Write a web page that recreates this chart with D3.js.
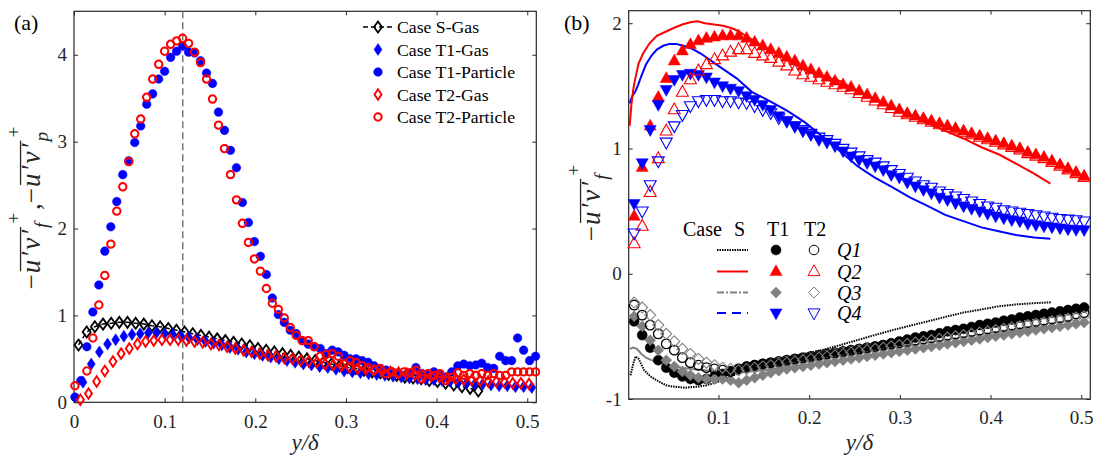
<!DOCTYPE html>
<html><head><meta charset="utf-8">
<script src="https://cdn.jsdelivr.net/npm/d3@7"></script>
<style>
body{margin:0;background:#fff;}
svg{display:block;font-family:"Liberation Serif","Times New Roman",Times,serif;}
</style></head><body>
<svg id="c" width="1096" height="456"></svg>
<script>
// ---------------- Panel (a) data ----------------
const xTicksA = [0, 0.1, 0.2, 0.3, 0.4, 0.5];
const xTickLabelsA = ["0", "0.1", "0.2", "0.3", "0.4", "0.5"];
const yTicksA = [0, 1, 2, 3, 4];
const yTickLabelsA = ["0", "1", "2", "3", "4"];

// particle grid
const xPart = [0.001,0.0076,0.0142,0.0208,0.0274,0.034,0.0406,0.0472,0.0538,0.0604,0.067,0.0736,0.0802,0.0868,0.0934,0.1,0.1066,0.1132,0.1198,0.1264,0.133,0.1396,0.1462,0.1528,0.1594,0.166,0.1726,0.1792,0.1858,0.1924,0.199,0.2056,0.2122,0.2188,0.2254,0.232,0.2386,0.2452,0.2518,0.2584,0.265,0.2716,0.2782,0.2848,0.2914,0.298,0.3046,0.3112,0.3178,0.3244,0.331,0.3376,0.3442,0.3508,0.3574,0.364,0.3706,0.3772,0.3838,0.3904,0.397,0.4036,0.4102,0.4168,0.4234,0.43,0.4366,0.4432,0.4498,0.4564,0.463,0.4696,0.4762,0.4828,0.4894,0.496,0.5026,0.5092];
const t1Particle = [0.06,0.25,0.64,1.04,1.35,1.74,2.02,2.31,2.62,2.78,2.99,3.18,3.43,3.55,3.72,3.81,3.97,4.04,4.10,4.03,4.02,3.93,3.79,3.67,3.34,3.13,2.90,2.70,2.30,2.07,1.85,1.68,1.47,1.20,1.01,0.92,0.83,0.79,0.71,0.67,0.64,0.62,0.56,0.60,0.58,0.54,0.50,0.50,0.48,0.46,0.42,0.37,0.37,0.35,0.33,0.31,0.33,0.40,0.33,0.31,0.35,0.31,0.29,0.35,0.42,0.44,0.42,0.43,0.45,0.40,0.39,0.53,0.48,0.48,0.74,0.60,0.48,0.53];
const t2Particle = [0.19,null,0.36,0.74,1.12,1.46,1.82,2.20,2.48,2.77,3.09,3.26,3.51,3.72,3.89,4.04,4.12,4.16,4.19,4.13,4.03,3.91,3.72,3.49,3.19,2.92,2.62,2.33,2.06,1.84,1.65,1.51,1.31,1.14,1.07,0.97,0.86,0.77,0.71,0.71,0.64,0.53,0.55,0.56,0.53,0.44,0.48,0.46,0.42,0.40,0.37,0.39,0.33,0.35,0.33,0.35,0.34,0.37,0.27,0.33,0.31,0.33,0.25,0.29,0.34,0.31,0.33,0.31,0.33,0.31,0.33,0.31,0.31,0.35,0.35,0.35,0.35,0.35];

const xSGas = [0.005,0.014,0.023,0.032,0.041,0.05,0.059,0.068,0.077,0.086,0.095,0.104,0.113,0.122,0.131,0.14,0.149,0.158,0.167,0.176,0.185,0.194,0.203,0.212,0.221,0.23,0.239,0.248,0.257,0.266,0.275,0.284,0.293,0.302,0.311,0.32,0.329,0.338,0.347,0.356,0.365,0.374,0.383,0.392,0.401,0.41,0.419,0.428,0.437,0.446];
const sGas = [0.66,0.81,0.87,0.90,0.91,0.92,0.92,0.91,0.90,0.88,0.87,0.85,0.83,0.81,0.79,0.77,0.75,0.73,0.71,0.69,0.67,0.65,0.62,0.60,0.58,0.56,0.54,0.52,0.50,0.48,0.46,0.44,0.42,0.40,0.39,0.37,0.35,0.34,0.32,0.31,0.29,0.28,0.27,0.25,0.24,0.22,0.20,0.18,0.16,0.13];

const xT1Gas = [0.01,0.019,0.028,0.037,0.046,0.055,0.064,0.073,0.082,0.091,0.1,0.109,0.118,0.127,0.136,0.145,0.154,0.163,0.172,0.181,0.19,0.199,0.208,0.217,0.226,0.235,0.244,0.253,0.262,0.271,0.28,0.289,0.298,0.307,0.316,0.325,0.334,0.343,0.352,0.361,0.37,0.379,0.388,0.397,0.406,0.415,0.424,0.433,0.442,0.451,0.46,0.469,0.478,0.487,0.496,0.505];
const t1Gas = [0.23,0.44,0.58,0.67,0.72,0.76,0.78,0.79,0.80,0.80,0.79,0.78,0.76,0.74,0.72,0.70,0.68,0.66,0.63,0.61,0.58,0.56,0.54,0.52,0.50,0.48,0.46,0.44,0.43,0.41,0.40,0.38,0.36,0.35,0.34,0.33,0.32,0.31,0.30,0.29,0.28,0.27,0.26,0.26,0.25,0.24,0.23,0.22,0.21,0.21,0.20,0.19,0.19,0.18,0.18,0.17];

const xT2Gas = [0.007,0.016,0.025,0.034,0.043,0.052,0.061,0.07,0.079,0.088,0.097,0.106,0.115,0.124,0.133,0.142,0.151,0.16,0.169,0.178,0.187,0.196,0.205,0.214,0.223,0.232,0.241,0.25,0.259,0.268,0.277,0.286,0.295,0.304,0.313,0.322,0.331,0.34,0.349,0.358,0.367,0.376,0.385,0.394,0.403,0.412,0.421,0.43,0.439,0.448,0.457,0.466,0.475,0.484,0.493,0.502];
const t2Gas = [0.03,0.10,0.24,0.36,0.47,0.56,0.62,0.67,0.70,0.71,0.72,0.72,0.72,0.71,0.70,0.69,0.67,0.66,0.64,0.62,0.60,0.58,0.56,0.54,0.53,0.51,0.50,0.48,0.47,0.46,0.44,0.43,0.42,0.40,0.39,0.38,0.37,0.36,0.35,0.34,0.33,0.32,0.31,0.30,0.29,0.28,0.27,0.26,0.26,0.25,0.24,0.24,0.23,0.22,0.22,0.21];

const peakLineX = 0.12;
const legendA = ["Case S-Gas", "Case T1-Gas", "Case T1-Particle", "Case T2-Gas", "Case T2-Particle"];

// ---------------- Panel (b) data ----------------
const xTicksB = [0.1, 0.2, 0.3, 0.4, 0.5];
const xTickLabelsB = ["0.1", "0.2", "0.3", "0.4", "0.5"];
const yTicksB = [-1, 0, 1, 2];
const yTickLabelsB = ["-1", "0", "1", "2"];

const xB = [0.007,0.0159,0.0247,0.0336,0.0424,0.0513,0.0602,0.069,0.0779,0.0867,0.0956,0.1045,0.1133,0.1222,0.131,0.1399,0.1488,0.1576,0.1665,0.1753,0.1842,0.1931,0.2019,0.2108,0.2196,0.2285,0.2374,0.2462,0.2551,0.2639,0.2728,0.2817,0.2905,0.2994,0.3082,0.3171,0.326,0.3348,0.3437,0.3525,0.3614,0.3703,0.3791,0.388,0.3968,0.4057,0.4146,0.4234,0.4323,0.4411,0.45,0.4589,0.4677,0.4766,0.4854,0.4943,0.5032];
const t1Q1 = [-0.38,-0.49,-0.59,-0.69,-0.75,-0.79,-0.82,-0.84,-0.85,-0.84,-0.82,-0.80,-0.78,-0.76,-0.74,-0.73,-0.72,-0.715,-0.71,-0.70,-0.69,-0.68,-0.67,-0.66,-0.65,-0.64,-0.63,-0.62,-0.61,-0.60,-0.585,-0.57,-0.555,-0.54,-0.525,-0.51,-0.50,-0.49,-0.475,-0.46,-0.45,-0.44,-0.425,-0.41,-0.40,-0.39,-0.375,-0.365,-0.35,-0.34,-0.33,-0.32,-0.31,-0.30,-0.29,-0.28,-0.27];
const t1Q2 = [0.46,0.85,1.18,1.41,1.56,1.70,1.78,1.83,1.86,1.88,1.89,1.90,1.90,1.90,1.88,1.85,1.82,1.79,1.76,1.73,1.70,1.66,1.63,1.60,1.57,1.54,1.51,1.49,1.46,1.43,1.40,1.37,1.34,1.31,1.28,1.26,1.24,1.22,1.20,1.18,1.16,1.14,1.12,1.10,1.08,1.06,1.04,1.02,1.00,0.97,0.95,0.93,0.90,0.87,0.84,0.81,0.78];
const t1Q3 = [-0.34,-0.42,-0.53,-0.61,-0.69,-0.74,-0.78,-0.81,-0.83,-0.84,-0.84,-0.84,-0.85,-0.87,-0.85,-0.83,-0.81,-0.79,-0.775,-0.76,-0.75,-0.74,-0.73,-0.72,-0.71,-0.70,-0.69,-0.68,-0.67,-0.66,-0.65,-0.64,-0.63,-0.62,-0.61,-0.60,-0.59,-0.58,-0.57,-0.56,-0.55,-0.54,-0.53,-0.52,-0.51,-0.50,-0.49,-0.48,-0.47,-0.46,-0.45,-0.44,-0.43,-0.42,-0.41,-0.40,-0.39];
const t1Q4 = [0.56,0.885,1.15,1.35,1.47,1.55,1.59,1.60,1.59,1.57,1.53,1.50,1.48,1.46,1.42,1.39,1.35,1.31,1.26,1.22,1.18,1.14,1.11,1.07,1.05,1.02,0.98,0.94,0.91,0.885,0.86,0.83,0.79,0.77,0.73,0.70,0.67,0.645,0.61,0.59,0.565,0.54,0.52,0.50,0.48,0.46,0.445,0.43,0.42,0.40,0.39,0.38,0.373,0.365,0.357,0.352,0.35];
const t2Q1 = [-0.25,-0.33,-0.41,-0.48,-0.56,-0.61,-0.67,-0.71,-0.73,-0.75,-0.76,-0.77,-0.78,-0.76,-0.745,-0.73,-0.72,-0.71,-0.70,-0.69,-0.68,-0.67,-0.66,-0.65,-0.64,-0.63,-0.62,-0.61,-0.60,-0.59,-0.58,-0.57,-0.56,-0.55,-0.54,-0.53,-0.52,-0.51,-0.50,-0.49,-0.48,-0.47,-0.46,-0.45,-0.44,-0.43,-0.42,-0.41,-0.40,-0.39,-0.38,-0.37,-0.36,-0.35,-0.34,-0.32,-0.31];
const t2Q2 = [0.24,0.38,0.65,0.92,1.14,1.31,1.45,1.55,1.62,1.67,1.71,1.74,1.77,1.79,1.79,1.76,1.74,1.72,1.69,1.66,1.62,1.59,1.57,1.55,1.53,1.51,1.49,1.47,1.44,1.41,1.38,1.35,1.32,1.29,1.27,1.25,1.23,1.21,1.19,1.17,1.15,1.13,1.11,1.09,1.07,1.05,1.03,1.01,0.99,0.96,0.94,0.92,0.89,0.86,0.83,0.80,0.77];
const t2Q3 = [-0.23,-0.27,-0.33,-0.41,-0.48,-0.54,-0.60,-0.64,-0.68,-0.71,-0.73,-0.75,-0.76,-0.77,-0.76,-0.75,-0.74,-0.73,-0.72,-0.71,-0.70,-0.69,-0.68,-0.67,-0.66,-0.65,-0.64,-0.63,-0.62,-0.61,-0.60,-0.59,-0.58,-0.57,-0.56,-0.55,-0.54,-0.53,-0.52,-0.51,-0.50,-0.49,-0.48,-0.47,-0.46,-0.45,-0.44,-0.43,-0.42,-0.41,-0.40,-0.39,-0.38,-0.37,-0.36,-0.35,-0.34];
const t2Q4 = [0.325,0.50,0.71,0.90,1.05,1.18,1.27,1.34,1.38,1.39,1.39,1.38,1.38,1.37,1.365,1.34,1.31,1.285,1.245,1.22,1.18,1.15,1.12,1.09,1.07,1.04,1.00,0.97,0.94,0.91,0.89,0.86,0.83,0.80,0.77,0.74,0.71,0.69,0.66,0.64,0.62,0.60,0.58,0.56,0.54,0.53,0.51,0.50,0.49,0.48,0.47,0.46,0.45,0.44,0.435,0.43,0.42];

// Case S curves
const xSQ1 = [0.003,0.006,0.0086,0.012,0.018,0.025,0.034,0.042,0.049,0.056,0.063,0.071,0.079,0.087,0.094,0.105,0.12,0.137,0.156,0.176,0.195,0.214,0.234,0.253,0.272,0.292,0.311,0.331,0.35,0.37,0.39,0.409,0.428,0.448,0.467];
const sQ1 = [-0.81,-0.72,-0.66,-0.68,-0.77,-0.82,-0.86,-0.89,-0.90,-0.905,-0.91,-0.905,-0.90,-0.89,-0.875,-0.85,-0.80,-0.75,-0.71,-0.67,-0.64,-0.61,-0.57,-0.53,-0.49,-0.45,-0.415,-0.38,-0.345,-0.31,-0.285,-0.26,-0.245,-0.235,-0.228];
const xSQ2 = [0.002,0.004,0.006,0.008,0.012,0.017,0.024,0.032,0.041,0.05,0.06,0.07,0.077,0.085,0.095,0.105,0.115,0.121,0.13,0.137,0.146,0.156,0.166,0.175,0.185,0.195,0.205,0.214,0.224,0.234,0.243,0.253,0.272,0.292,0.311,0.331,0.35,0.37,0.39,0.41,0.428,0.448,0.466];
const sQ2 = [1.18,1.35,1.47,1.55,1.68,1.76,1.84,1.90,1.93,1.96,1.99,2.01,2.015,2.0,1.99,1.98,1.96,1.94,1.90,1.87,1.83,1.79,1.75,1.71,1.67,1.63,1.60,1.58,1.56,1.54,1.50,1.46,1.39,1.32,1.26,1.20,1.14,1.08,1.01,0.95,0.88,0.80,0.72];
const xSQ3 = [0.002,0.006,0.01,0.015,0.02,0.026,0.032,0.04,0.05,0.06,0.07,0.085,0.1,0.12,0.15,0.18,0.21,0.25,0.3,0.35,0.4,0.44,0.467];
const sQ3 = [-0.60,-0.59,-0.60,-0.64,-0.67,-0.69,-0.70,-0.72,-0.74,-0.75,-0.76,-0.77,-0.78,-0.79,-0.77,-0.74,-0.72,-0.68,-0.62,-0.56,-0.49,-0.44,-0.42];
const xSQ4 = [0.002,0.005,0.008,0.011,0.015,0.02,0.026,0.032,0.039,0.046,0.053,0.061,0.07,0.08,0.09,0.098,0.11,0.12,0.137,0.156,0.176,0.195,0.214,0.234,0.253,0.272,0.292,0.311,0.331,0.35,0.37,0.39,0.409,0.428,0.448,0.466];
const sQ4 = [1.36,1.42,1.45,1.50,1.58,1.67,1.74,1.79,1.82,1.835,1.835,1.82,1.80,1.76,1.71,1.67,1.61,1.56,1.45,1.38,1.30,1.21,1.10,0.98,0.86,0.77,0.69,0.61,0.54,0.47,0.42,0.37,0.34,0.31,0.29,0.28];

const legendBHeader = ["Case", "S", "T1", "T2"];
const legendBRows = ["Q1", "Q2", "Q3", "Q4"];

// ---------------- drawing ----------------
const svg = d3.select("#c");
const INK = "#262626";
const FONT = '"Liberation Serif","Times New Roman",Times,serif';
const RED = "#ff0000", BLUE = "#0000ff", GREY = "#808080";

const circ = r => `M${r},0A${r},${r} 0 1,1 ${-r},0A${r},${r} 0 1,1 ${r},0Z`;
const diam = (w, h) => `M0,${-h/2}L${w/2},0L0,${h/2}L${-w/2},0Z`;
const triU = s => { const h = s * 0.9; return `M0,${-h*0.62}L${s/2},${h*0.38}L${-s/2},${h*0.38}Z`; };
const triD = s => { const h = s * 0.9; return `M0,${h*0.62}L${s/2},${-h*0.38}L${-s/2},${-h*0.38}Z`; };

function frame(x, y, xt, xl, yt, yl) {
  const [x0, x1] = x.range(), [y0, y1] = y.range();
  const g = svg.append("g");
  const ax = (axis, tx, ty) => {
    const a = g.append("g").attr("transform", `translate(${tx},${ty})`).call(axis);
    a.attr("font-family", null).attr("font-size", null);
    a.select(".domain").remove();
    a.selectAll("line").attr("stroke", INK).attr("stroke-width", 1);
    a.selectAll("text").attr("fill", INK).style("font-size", "19px").style("font-family", FONT);
    return a;
  };
  ax(d3.axisBottom(x).tickValues(xt).tickFormat((d, i) => xl[i]).tickSize(-4).tickPadding(12), 0, y0);
  ax(d3.axisTop(x).tickValues(xt).tickFormat("").tickSize(-4), 0, y1);
  ax(d3.axisLeft(y).tickValues(yt).tickFormat((d, i) => yl[i]).tickSize(-4).tickPadding(7), x0, 0);
  ax(d3.axisRight(y).tickValues(yt).tickFormat("").tickSize(-4), x1, 0);
  g.append("rect").attr("x", x0).attr("y", y1).attr("width", x1 - x0).attr("height", y0 - y1)
    .attr("fill", "none").attr("stroke", INK).attr("stroke-width", 1.2);
}

function pts(x, y, xs, ys, shape, fill, stroke, sw) {
  svg.append("g").selectAll("path").data(d3.zip(xs, ys).filter(d => d[1] !== null)).join("path")
    .attr("transform", d => `translate(${x(d[0])},${y(d[1])})`)
    .attr("d", shape).attr("fill", fill).attr("stroke", stroke).attr("stroke-width", sw);
}
function ln(x, y, xs, ys, color, sw, dash) {
  svg.append("path").datum(d3.zip(xs, ys))
    .attr("d", d3.line().x(d => x(d[0])).y(d => y(d[1])))
    .attr("fill", "none").attr("stroke", color).attr("stroke-width", sw)
    .attr("stroke-dasharray", dash || null);
}

// math label: parts drawn in a rotated group
function mathLabel(cx, cy, fs, parts) {
  const g = svg.append("g").attr("transform", `translate(${cx},${cy}) rotate(-90)`);
  const inner = g.append("g");
  let x = 0;
  parts.forEach(p => {
    if (p.type === "main") {
      const t = inner.append("text").attr("x", x).attr("y", 0)
        .style("font-size", fs + "px").style("font-family", FONT)
        .style("letter-spacing", (p.ls || 0) + "px")
        .style("font-style", p.it ? "italic" : "normal").attr("fill", INK).text(p.t);
      const w = t.node().getComputedTextLength();
      if (p.over) {
        inner.append("line").attr("x1", x + 2).attr("x2", x + w + 1)
          .attr("y1", -0.72 * fs).attr("y2", -0.72 * fs).attr("stroke", INK).attr("stroke-width", 1.3);
      }
      x += w + (p.sp || 0);
    } else {
      const s = inner.append("text").attr("x", x).attr("y", 0.3 * fs)
        .style("font-size", (0.72 * fs) + "px").style("font-family", FONT)
        .style("font-style", "italic").attr("fill", INK).text(p.sub);
      const u = inner.append("text").attr("x", x + 0.15 * fs).attr("y", -0.74 * fs)
        .style("font-size", (0.72 * fs) + "px").style("font-family", FONT)
        .attr("fill", INK).text(p.sup);
      x += Math.max(s.node().getComputedTextLength(), u.node().getComputedTextLength() + 0.15 * fs) + (p.sp || 0);
    }
  });
  const bb = inner.node().getBBox();
  inner.attr("transform", `translate(${-bb.x - bb.width / 2},0)`);
}

// ===== Panel (a) =====
const xa = d3.scaleLinear().domain([0, 0.51]).range([74, 536.3]);
const ya = d3.scaleLinear().domain([0, 4.5]).range([402.3, 11.3]);
frame(xa, ya, xTicksA, xTickLabelsA, yTicksA, yTickLabelsA);

svg.append("line").attr("x1", xa(peakLineX)).attr("x2", xa(peakLineX))
  .attr("y1", ya.range()[1]).attr("y2", ya.range()[0])
  .attr("stroke", "#666").attr("stroke-width", 1.3).attr("stroke-dasharray", "7,4");

ln(xa, ya, xSGas, sGas, "#000", 1.5, "5,3");
pts(xa, ya, xSGas, sGas, diam(8, 11), "none", "#000", 1.8);
pts(xa, ya, xT1Gas, t1Gas, diam(8, 12), BLUE, BLUE, 0.5);
pts(xa, ya, xPart, t1Particle, circ(4.3), BLUE, BLUE, 0.5);
pts(xa, ya, xT2Gas, t2Gas, diam(7, 10.5), "none", RED, 1.9);
pts(xa, ya, xPart, t2Particle, circ(3.7), "none", RED, 2);

// legend (a)
const legY = [27, 49.5, 72, 94.5, 117];
const legShapes = [
  {d: diam(8, 11), f: "none", s: "#000", w: 1.8},
  {d: diam(8, 12), f: BLUE, s: BLUE, w: 0.5},
  {d: circ(4.3), f: BLUE, s: BLUE, w: 0.5},
  {d: diam(7, 10.5), f: "none", s: RED, w: 1.9},
  {d: circ(3.7), f: "none", s: RED, w: 2}
];
svg.append("line").attr("x1", 363).attr("x2", 394).attr("y1", legY[0]).attr("y2", legY[0])
  .attr("stroke", "#000").attr("stroke-width", 1.5).attr("stroke-dasharray", "5,3");
legendA.forEach((t, i) => {
  svg.append("path").attr("transform", `translate(378,${legY[i]})`).attr("d", legShapes[i].d)
    .attr("fill", legShapes[i].f).attr("stroke", legShapes[i].s).attr("stroke-width", legShapes[i].w);
  svg.append("text").attr("x", 397).attr("y", legY[i] + 6).style("font-size", "17.7px")
    .style("font-family", FONT).attr("fill", "#000").text(t);
});

svg.append("text").attr("x", 14).attr("y", 30).style("font-size", "22px").style("font-family", FONT).attr("fill", "#000").text("(a)");
svg.append("text").attr("x", (xa.range()[0] + xa.range()[1]) / 2).attr("y", 450).attr("text-anchor", "middle")
  .style("font-size", "23px").style("font-family", FONT).style("font-style", "italic").attr("fill", INK).text("y/δ");
mathLabel(40, 208, 27, [
  {type: "main", t: "−", it: false, sp: 1},
  {type: "main", t: "u′v′", it: true, over: true, ls: 2, sp: 0},
  {type: "ss", sub: "f", sup: "+", sp: 3},
  {type: "main", t: ",  ", it: false},
  {type: "main", t: "−", it: false, sp: 1},
  {type: "main", t: "u′v′", it: true, over: true, ls: 2, sp: 0},
  {type: "ss", sub: "p", sup: "+"}
]);

// ===== Panel (b) =====
const xb = d3.scaleLinear().domain([0.001, 0.51]).range([628.7, 1090.3]);
const yb = d3.scaleLinear().domain([-1, 2.1]).range([399, 10.7]);
frame(xb, yb, xTicksB, xTickLabelsB, yTicksB, yTickLabelsB);

ln(xb, yb, xSQ3, sQ3, GREY, 2);
ln(xb, yb, xSQ1, sQ1, "#000", 2, "1.5,1");
ln(xb, yb, xSQ4, sQ4, BLUE, 2);
ln(xb, yb, xSQ2, sQ2, RED, 2);

pts(xb, yb, xB, t1Q1, circ(5), "#000", "#000", 0.5);
pts(xb, yb, xB, t1Q2, triU(12), RED, RED, 0.5);
pts(xb, yb, xB, t1Q3, diam(11, 11), GREY, GREY, 0.5);
pts(xb, yb, xB, t1Q4, triD(12), BLUE, BLUE, 0.5);
pts(xb, yb, xB, t2Q1, circ(4.8), "none", "#000", 1.3);
pts(xb, yb, xB, t2Q2, triU(12), "none", RED, 1.1);
pts(xb, yb, xB, t2Q3, diam(11, 11), "none", GREY, 1.1);
pts(xb, yb, xB, t2Q4, triD(12), "none", BLUE, 1.1);

// legend (b)
const hdrX = [683, 734, 767, 804];
legendBHeader.forEach((t, i) => {
  svg.append("text").attr("x", hdrX[i]).attr("y", 236).style("font-size", "20px")
    .style("font-family", FONT).attr("fill", "#000").text(t);
});
const rowY = [250, 271.5, 292.5, 313];
const rowLine = [
  {c: "#000", d: "1.5,1"}, {c: RED, d: null}, {c: GREY, d: "7,2,2,2"}, {c: BLUE, d: "9,6"}
];
const rowFilled = [
  {d: circ(5), f: "#000", s: "#000"}, {d: triU(12), f: RED, s: RED},
  {d: diam(11, 11), f: GREY, s: GREY}, {d: triD(12), f: BLUE, s: BLUE}
];
const rowOpen = [
  {d: circ(4.8), s: "#000"}, {d: triU(12), s: RED}, {d: diam(11, 11), s: GREY}, {d: triD(12), s: BLUE}
];
legendBRows.forEach((t, i) => {
  svg.append("line").attr("x1", 717).attr("x2", 748).attr("y1", rowY[i]).attr("y2", rowY[i])
    .attr("stroke", rowLine[i].c).attr("stroke-width", 2).attr("stroke-dasharray", rowLine[i].d);
  svg.append("path").attr("transform", `translate(776,${rowY[i]})`).attr("d", rowFilled[i].d)
    .attr("fill", rowFilled[i].f).attr("stroke", rowFilled[i].s).attr("stroke-width", 0.5);
  svg.append("path").attr("transform", `translate(814,${rowY[i]})`).attr("d", rowOpen[i].d)
    .attr("fill", "none").attr("stroke", rowOpen[i].s).attr("stroke-width", 1);
  svg.append("text").attr("x", 837).attr("y", rowY[i] + 7).style("font-size", "20px")
    .style("font-family", FONT).style("font-style", "italic").attr("fill", "#000").text(t);
});

svg.append("text").attr("x", 564).attr("y", 30).style("font-size", "22px").style("font-family", FONT).attr("fill", "#000").text("(b)");
svg.append("text").attr("x", (xb.range()[0] + xb.range()[1]) / 2).attr("y", 450).attr("text-anchor", "middle")
  .style("font-size", "23px").style("font-family", FONT).style("font-style", "italic").attr("fill", INK).text("y/δ");
mathLabel(600, 203, 27, [
  {type: "main", t: "−", it: false, sp: 1},
  {type: "main", t: "u′v′", it: true, over: true, ls: 2, sp: 0},
  {type: "ss", sub: "f", sup: "+"}
]);
</script></body></html>
